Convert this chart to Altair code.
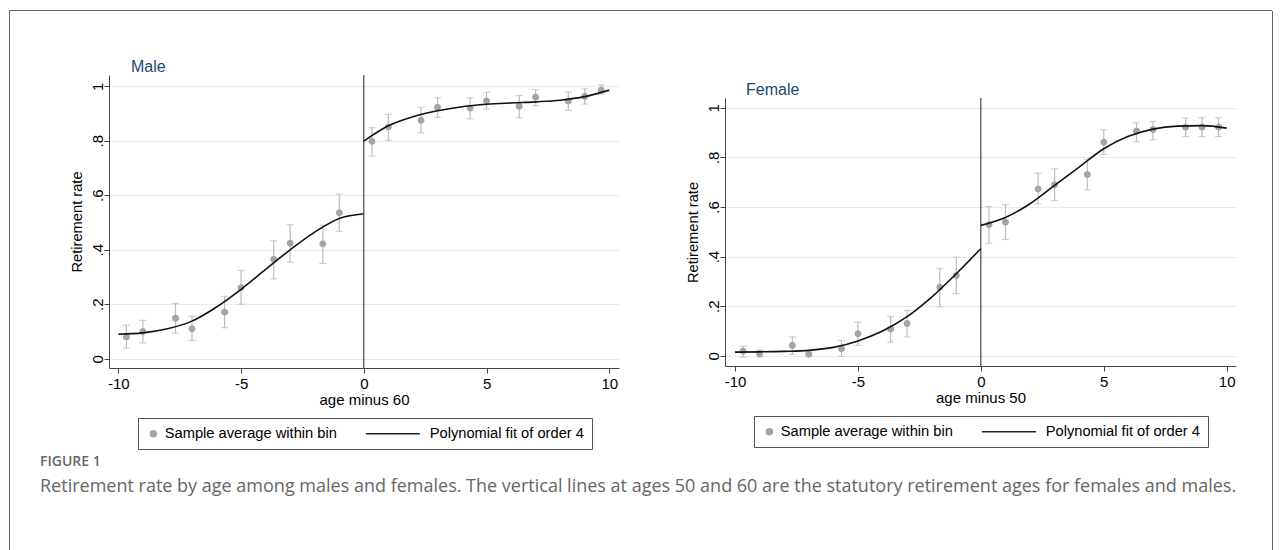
import altair as alt
import pandas as pd

# ---------------- data ----------------
bin_x = [-9.67, -9, -7.67, -7, -5.67, -5, -3.67, -3, -1.67, -1,
         0.33, 1, 2.33, 3, 4.33, 5, 6.33, 7, 8.33, 9, 9.67]

male_mean = [0.080, 0.100, 0.149, 0.110, 0.171, 0.261, 0.365, 0.424, 0.422, 0.536,
             0.798, 0.851, 0.875, 0.923, 0.920, 0.946, 0.927, 0.960, 0.946, 0.963, 0.986]
male_lo = [0.039, 0.058, 0.094, 0.067, 0.114, 0.200, 0.293, 0.354, 0.350, 0.468,
           0.744, 0.802, 0.829, 0.886, 0.881, 0.917, 0.885, 0.929, 0.912, 0.935, 0.971]
male_hi = [0.123, 0.141, 0.203, 0.156, 0.229, 0.324, 0.433, 0.492, 0.490, 0.604,
           0.848, 0.897, 0.923, 0.958, 0.958, 0.978, 0.966, 0.988, 0.979, 0.991, 1.005]

female_mean = [0.019, 0.009, 0.042, 0.006, 0.029, 0.089, 0.108, 0.130, 0.277, 0.324,
               0.529, 0.539, 0.673, 0.690, 0.731, 0.861, 0.906, 0.912, 0.922, 0.922, 0.922]
female_lo = [-0.005, -0.005, 0.006, -0.002, -0.002, 0.042, 0.056, 0.076, 0.197, 0.251,
             0.454, 0.469, 0.613, 0.626, 0.670, 0.812, 0.864, 0.871, 0.884, 0.884, 0.884]
female_hi = [0.039, 0.022, 0.076, 0.015, 0.062, 0.135, 0.158, 0.183, 0.353, 0.398,
             0.602, 0.610, 0.736, 0.754, 0.793, 0.911, 0.940, 0.945, 0.959, 0.960, 0.960]

fit_left_x = [-10, -9, -8, -7, -6, -5, -4, -3, -2, -1, 0]
fit_right_x = [0, 1, 2, 3, 4, 5, 6, 7, 8, 9, 10]
male_fit_left = [0.090, 0.095, 0.110, 0.138, 0.190, 0.255, 0.328, 0.400, 0.465, 0.515, 0.532]
male_fit_right = [0.799, 0.855, 0.888, 0.910, 0.925, 0.934, 0.939, 0.943, 0.949, 0.962, 0.986]
female_fit_left = [0.015, 0.016, 0.018, 0.022, 0.034, 0.060, 0.100, 0.158, 0.237, 0.331, 0.432]
female_fit_right = [0.526, 0.558, 0.613, 0.687, 0.761, 0.835, 0.885, 0.914, 0.926, 0.928, 0.918]

series_names = ["Sample average within bin", "Polynomial fit of order 4"]
x_ticks = [-10, -5, 0, 5, 10]
y_ticks = [0, 0.2, 0.4, 0.6, 0.8, 1]

caption_head = "FIGURE 1"
caption_text = ("Retirement rate by age among males and females. The vertical lines at ages 50 "
                "and 60 are the statutory retirement ages for females and males.")

# ---------------- styling ----------------
FONT = "Liberation Sans"
TITLE_BLUE = "#1a476f"
GRID = "#e3edf0"
DOT = "#a4a4a4"
BAR = "#bcbcbc"
AXIS = "#444444"
EDGE = "#666666"
LINE_PATH = "M-17.5,0H0.5"
IND = dict(fill="independent", stroke="independent", shape="independent")


def panel(mean, lo, hi, fit_l, fit_r, xtitle, title, width, height,
          xdom, ydom, legx, legy, tdx):
    pts = pd.DataFrame({"x": bin_x, "m": mean, "lo": lo, "hi": hi,
                        "series": series_names[0]})
    fit = pd.DataFrame({"x": fit_left_x + fit_right_x,
                        "y": fit_l + fit_r,
                        "seg": ["before"] * len(fit_l) + ["after"] * len(fit_r)})
    zero = pd.DataFrame({"x": [0]})

    xs = alt.Scale(domain=xdom, nice=False, zero=False)
    ys = alt.Scale(domain=ydom, nice=False, zero=False)
    xax = alt.Axis(values=x_ticks, title=xtitle, grid=False, labelFlush=False,
                   labelExpr="'' + datum.value",
                   labelFont=FONT, labelFontSize=15, labelColor="black",
                   labelPadding=3, tickSize=5, tickColor=AXIS, domainColor=AXIS,
                   titleFont=FONT, titleFontSize=15, titleFontWeight="normal",
                   titleColor="black", titlePadding=1)
    yax = alt.Axis(values=y_ticks, title="Retirement rate",
                   labelExpr="datum.value == 0 ? '0' : datum.value == 1 ? '1' : '.' + format(datum.value * 10, '.0f')",
                   labelAngle=270, labelAlign="center", labelBaseline="alphabetic",
                   labelFont=FONT, labelFontSize=15, labelColor="black",
                   labelPadding=2, tickSize=5, tickColor=AXIS, domainColor=AXIS,
                   grid=True, gridColor=GRID, gridWidth=1,
                   titleFont=FONT, titleFontSize=14.7, titleFontWeight="normal",
                   titleColor="black", titlePadding=6)
    X = lambda f: alt.X(f, scale=xs, axis=xax)
    Y = lambda f: alt.Y(f, scale=ys, axis=yax)

    base = alt.Chart(pts)
    bars = base.mark_rule(color=BAR, strokeWidth=1.2).encode(
        x=X("x:Q"), y=Y("lo:Q"), y2="hi:Q")
    cap_lo = base.mark_tick(color=BAR, orient="horizontal", size=7, thickness=1.2).encode(
        x=X("x:Q"), y=Y("lo:Q"))
    cap_hi = base.mark_tick(color=BAR, orient="horizontal", size=7, thickness=1.2).encode(
        x=X("x:Q"), y=Y("hi:Q"))

    leg = alt.Legend(title=None, orient="none", legendX=legx, legendY=legy,
                     direction="horizontal", strokeColor="#555555", fillColor="white",
                     padding=8, labelFont=FONT, labelFontSize=14.7, labelColor="black",
                     labelLimit=400, symbolSize=36, symbolStrokeWidth=1.5,
                     labelOffset=4, columnPadding=25, symbolOpacity=1)
    dots = base.mark_point(filled=True, size=36, opacity=1, strokeWidth=1).encode(
        x=X("x:Q"), y=Y("m:Q"),
        fill=alt.Fill("series:N", scale=alt.Scale(domain=series_names, range=[DOT, "#111111"]), legend=leg),
        stroke=alt.Stroke("series:N", scale=alt.Scale(domain=series_names, range=[DOT, "#222222"]), legend=leg),
        shape=alt.Shape("series:N", scale=alt.Scale(domain=series_names, range=["circle", LINE_PATH]), legend=leg))
    curve = alt.Chart(fit).mark_line(color="#111111", strokeWidth=1.6, interpolate="monotone").encode(
        x=X("x:Q"), y=Y("y:Q"), detail="seg:N")
    vline = alt.Chart(zero).mark_rule(color="#222222", strokeWidth=1).encode(x=X("x:Q"))

    return alt.layer(bars, cap_lo, cap_hi, dots, curve, vline).properties(
        width=width, height=height,
        title=alt.TitleParams(title, anchor="start", frame="group", dx=tdx, offset=0,
                              font=FONT, fontSize=16, fontWeight="normal", color=TITLE_BLUE))


def block(w, h, fill=None):
    c = alt.Chart(pd.DataFrame({"v": [0]})).mark_point(opacity=0, size=1).encode(
        x=alt.value(w / 2), y=alt.value(h / 2))
    if fill:
        return c.properties(width=w, height=h, view=alt.ViewBackground(fill=fill, stroke=None))
    return c.properties(width=w, height=h)


male = panel(male_mean, male_lo, male_hi, male_fit_left, male_fit_right,
             "age minus 60", "Male", 510, 293, [-10.38, 10.395], [-0.034, 1.0415],
             29, 343, 22)
female = panel(female_mean, female_lo, female_hi, female_fit_left, female_fit_right,
               "age minus 50", "Female", 511, 268, [-10.407, 10.378], [-0.041, 1.0395],
               29, 318, 21)

female_col = alt.vconcat(block(2, 5.5), female, spacing=0).resolve_scale(**IND).resolve_legend(**IND)

panels = alt.hconcat(male, female_col, spacing=66).resolve_scale(**IND).resolve_legend(**IND)

content = alt.vconcat(
    block(1133, 47), panels, spacing=0,
    title=alt.TitleParams(caption_head, subtitle=caption_text, orient="bottom",
                          anchor="start", frame="group", dx=-69, offset=5,
                          font="Open Sans", fontSize=14, fontWeight=600, color="#666666",
                          subtitleFont="Open Sans", subtitleFontSize=18,
                          subtitleColor="#666666", subtitlePadding=9)
).resolve_scale(**IND).resolve_legend(**IND)

# thin figure frame: left edge, content, right edge; top edge above
middle = alt.hconcat(block(1, 545, EDGE), content, block(1, 545, EDGE),
                     spacing=30).resolve_scale(**IND).resolve_legend(**IND)
chart = alt.vconcat(block(1263, 1, EDGE), middle, spacing=0).resolve_scale(**IND).resolve_legend(**IND).properties(
    padding={"left": 1, "top": 2, "right": 0, "bottom": 0},
    background="white").configure_view(stroke=None)

chart.save("out.html", embed_options={"renderer": "svg", "actions": False})
